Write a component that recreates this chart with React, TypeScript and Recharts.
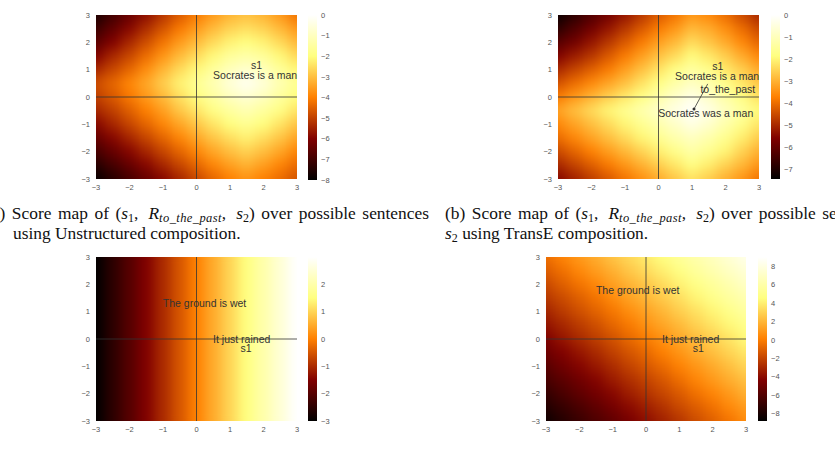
import React from 'react';
import {
    ScatterChart, Scatter, BarChart, Bar, XAxis, YAxis, ReferenceDot
} from 'recharts';

// axis ticks shared by every map
const axisTicks = [-3, -2, -1, 0, 1, 2, 3];
// sample positions of the score grids (columns left->right, rows top->bottom)
const gridX = [-3, -2.5, -2, -1.5, -1, -0.5, 0, 0.5, 1, 1.5, 2, 2.5, 3];
const gridY = [3, 2.5, 2, 1.5, 1, 0.5, 0, -0.5, -1, -1.5, -2, -2.5, -3];

// (a) Unstructured composition
const scoreA = [
    [-7.6, -7.0, -6.4, -5.8, -5.2, -4.6, -4.1, -3.6, -3.2, -3.0, -3.2, -3.6, -4.2],
    [-7.1, -6.5, -5.9, -5.3, -4.7, -4.1, -3.6, -3.1, -2.7, -2.5, -2.7, -3.1, -3.6],
    [-6.6, -6.0, -5.4, -4.8, -4.2, -3.6, -3.1, -2.6, -2.2, -2.0, -2.2, -2.6, -3.1],
    [-6.0, -5.4, -4.9, -4.3, -3.7, -3.1, -2.6, -2.1, -1.6, -1.4, -1.6, -2.1, -2.6],
    [-5.4, -4.9, -4.4, -3.8, -3.2, -2.6, -2.1, -1.6, -1.1, -0.8, -1.1, -1.6, -2.1],
    [-4.8, -4.4, -3.9, -3.4, -2.8, -2.2, -1.7, -1.2, -0.6, -0.2, -0.6, -1.2, -1.7],
    [-5.0, -4.6, -4.1, -3.6, -3.1, -2.5, -2.0, -1.5, -1.0, -0.7, -1.0, -1.5, -2.0],
    [-5.4, -5.0, -4.5, -4.0, -3.5, -2.9, -2.4, -1.9, -1.5, -1.2, -1.5, -1.9, -2.4],
    [-5.9, -5.4, -4.9, -4.4, -3.9, -3.4, -2.9, -2.4, -2.0, -1.7, -2.0, -2.4, -2.9],
    [-6.4, -5.9, -5.4, -4.9, -4.4, -3.9, -3.4, -2.9, -2.5, -2.2, -2.5, -2.9, -3.4],
    [-6.9, -6.4, -5.9, -5.4, -4.9, -4.4, -3.9, -3.4, -3.0, -2.7, -3.0, -3.4, -3.9],
    [-7.4, -6.9, -6.4, -5.9, -5.4, -4.9, -4.4, -3.9, -3.5, -3.2, -3.5, -3.9, -4.3],
    [-7.9, -7.4, -6.9, -6.4, -5.9, -5.4, -4.9, -4.4, -4.0, -3.7, -4.0, -4.3, -4.7],
];

// (b) TransE composition
const scoreB = [
    [-7.3, -6.8, -6.3, -5.8, -5.3, -4.8, -4.3, -3.9, -3.4, -3.6, -4.0, -4.5, -5.0],
    [-6.8, -6.3, -5.8, -5.3, -4.8, -4.3, -3.8, -3.4, -2.9, -3.1, -3.5, -4.0, -4.5],
    [-6.2, -5.8, -5.3, -4.8, -4.3, -3.8, -3.3, -2.9, -2.4, -2.7, -3.1, -3.6, -4.1],
    [-5.6, -5.2, -4.8, -4.3, -3.8, -3.3, -2.8, -2.4, -1.9, -2.2, -2.6, -3.1, -3.6],
    [-5.0, -4.6, -4.2, -3.8, -3.3, -2.8, -2.3, -1.8, -1.4, -1.7, -2.2, -2.6, -3.1],
    [-4.4, -4.0, -3.6, -3.2, -2.8, -2.3, -1.8, -1.3, -0.9, -1.2, -1.7, -2.2, -2.7],
    [-3.8, -3.4, -3.0, -2.6, -2.2, -1.8, -1.3, -0.8, -0.4, -0.8, -1.3, -1.8, -2.3],
    [-3.2, -2.8, -2.4, -2.0, -1.6, -1.2, -0.8, -0.4, -0.05, -0.4, -0.9, -1.4, -1.9],
    [-3.6, -3.2, -2.8, -2.4, -2.0, -1.6, -1.2, -0.8, -0.4, -0.7, -1.2, -1.7, -2.2],
    [-4.0, -3.6, -3.2, -2.8, -2.4, -2.0, -1.6, -1.2, -0.9, -1.2, -1.6, -2.1, -2.6],
    [-4.5, -4.1, -3.7, -3.3, -2.9, -2.5, -2.1, -1.7, -1.3, -1.6, -2.0, -2.5, -3.0],
    [-5.0, -4.6, -4.2, -3.8, -3.4, -3.0, -2.6, -2.2, -1.8, -2.1, -2.5, -2.9, -3.4],
    [-5.5, -5.1, -4.7, -4.3, -3.9, -3.5, -3.1, -2.7, -2.3, -2.6, -3.0, -3.4, -3.9],
];

// (c) varies along x only
const scoreC = [
    [-3.0, -2.5, -2.0, -1.5, -1.0, -0.5, 0.0, 0.5, 1.0, 1.5, 2.0, 2.5, 3.0],
    [-3.0, -2.5, -2.0, -1.5, -1.0, -0.5, 0.0, 0.5, 1.0, 1.5, 2.0, 2.5, 3.0],
    [-3.0, -2.5, -2.0, -1.5, -1.0, -0.5, 0.0, 0.5, 1.0, 1.5, 2.0, 2.5, 3.0],
    [-3.0, -2.5, -2.0, -1.5, -1.0, -0.5, 0.0, 0.5, 1.0, 1.5, 2.0, 2.5, 3.0],
    [-3.0, -2.5, -2.0, -1.5, -1.0, -0.5, 0.0, 0.5, 1.0, 1.5, 2.0, 2.5, 3.0],
    [-3.0, -2.5, -2.0, -1.5, -1.0, -0.5, 0.0, 0.5, 1.0, 1.5, 2.0, 2.5, 3.0],
    [-3.0, -2.5, -2.0, -1.5, -1.0, -0.5, 0.0, 0.5, 1.0, 1.5, 2.0, 2.5, 3.0],
    [-3.0, -2.5, -2.0, -1.5, -1.0, -0.5, 0.0, 0.5, 1.0, 1.5, 2.0, 2.5, 3.0],
    [-3.0, -2.5, -2.0, -1.5, -1.0, -0.5, 0.0, 0.5, 1.0, 1.5, 2.0, 2.5, 3.0],
    [-3.0, -2.5, -2.0, -1.5, -1.0, -0.5, 0.0, 0.5, 1.0, 1.5, 2.0, 2.5, 3.0],
    [-3.0, -2.5, -2.0, -1.5, -1.0, -0.5, 0.0, 0.5, 1.0, 1.5, 2.0, 2.5, 3.0],
    [-3.0, -2.5, -2.0, -1.5, -1.0, -0.5, 0.0, 0.5, 1.0, 1.5, 2.0, 2.5, 3.0],
    [-3.0, -2.5, -2.0, -1.5, -1.0, -0.5, 0.0, 0.5, 1.0, 1.5, 2.0, 2.5, 3.0],
];

// (d) diagonal ramp
const scoreD = [
    [-0.5, 0.3, 1.0, 1.7, 2.5, 3.2, 3.9, 4.6, 5.4, 6.1, 6.8, 7.5, 8.3],
    [-1.1, -0.4, 0.4, 1.1, 1.8, 2.6, 3.3, 4.0, 4.7, 5.5, 6.2, 6.9, 7.6],
    [-1.8, -1.0, -0.3, 0.4, 1.2, 1.9, 2.6, 3.3, 4.1, 4.8, 5.5, 6.2, 7.0],
    [-2.4, -1.7, -1.0, -0.3, 0.5, 1.3, 2.0, 2.7, 3.4, 4.2, 4.9, 5.6, 6.3],
    [-3.1, -2.3, -1.6, -0.9, -0.2, 0.6, 1.3, 2.0, 2.8, 3.5, 4.2, 4.9, 5.7],
    [-3.7, -3.0, -2.3, -1.6, -0.8, -0.1, 0.7, 1.4, 2.1, 2.9, 3.6, 4.3, 5.0],
    [-4.4, -3.6, -2.9, -2.2, -1.5, -0.7, 0.0, 0.7, 1.5, 2.2, 2.9, 3.6, 4.4],
    [-5.0, -4.3, -3.6, -2.9, -2.1, -1.4, -0.7, 0.1, 0.8, 1.6, 2.3, 3.0, 3.7],
    [-5.7, -4.9, -4.2, -3.5, -2.8, -2.0, -1.3, -0.6, 0.2, 0.9, 1.6, 2.3, 3.1],
    [-6.3, -5.6, -4.9, -4.2, -3.4, -2.7, -2.0, -1.3, -0.5, 0.3, 1.0, 1.7, 2.4],
    [-7.0, -6.2, -5.5, -4.8, -4.1, -3.3, -2.6, -1.9, -1.2, -0.4, 0.3, 1.0, 1.8],
    [-7.6, -6.9, -6.2, -5.5, -4.7, -4.0, -3.3, -2.6, -1.8, -1.1, -0.4, 0.4, 1.1],
    [-8.3, -7.5, -6.8, -6.1, -5.4, -4.6, -3.9, -3.2, -2.5, -1.7, -1.0, -0.3, 0.5],
];

// colorbar ranges and ticks
const rangeA = [-8, 0];
const ticksA = [-8, -7, -6, -5, -4, -3, -2, -1, 0];
const rangeB = [-7.45, 0];
const ticksB = [-7, -6, -5, -4, -3, -2, -1, 0];
const rangeC = [-3, 3];
const ticksC = [-3, -2, -1, 0, 1, 2];
const rangeD = [-8.8, 9];
const ticksD = [-8, -6, -4, -2, 0, 2, 4, 6, 8];

// zero lines through each map
const zeroV = [{ x: 0, y: -3 }, { x: 0, y: 3 }];
const zeroH = [{ x: -3, y: 0 }, { x: 3, y: 0 }];

// text annotations (data coords)
const notesA = [
    { x: 1.79, y: 1.17, text: 's1' },
    { x: 1.75, y: 0.78, text: 'Socrates is a man' },
];
const notesB = [
    { x: 1.77, y: 1.12, text: 's1' },
    { x: 1.75, y: 0.77, text: 'Socrates is a man' },
    { x: 2.07, y: 0.28, text: 'to_the_past' },
    { x: 1.41, y: -0.6, text: 'Socrates was a man' },
];
const arrowB = [{ x: 1.47, y: 0.48 }, { x: 1.06, y: -0.44 }];
const notesC = [
    { x: 0.24, y: 1.31, text: 'The ground is wet' },
    { x: 1.35, y: -0.01, text: 'It just rained' },
    { x: 1.48, y: -0.34, text: 's1' },
];
const notesD = [
    { x: -0.25, y: 1.8, text: 'The ground is wet' },
    { x: 1.34, y: 0, text: 'It just rained' },
    { x: 1.57, y: -0.33, text: 's1' },
];

const tickFont = { fontSize: 7.5, fill: '#555', fontFamily: 'Liberation Sans, Arial, sans-serif' };
const fmt = (v: number) => (v < 0 ? `\u2212${-v}` : `${v}`);

// matplotlib afmhot
const afmhot = (t: number) => {
    const c = (v: number) => Math.round(255 * Math.min(1, Math.max(0, v)));
    return `rgb(${c(2 * t)},${c(2 * t - 0.5)},${c(2 * t - 1)})`;
};

const cellsOf = (grid: number[][]) =>
    grid.flatMap((row, i) => row.map((v, j) => ({ x: gridX[j], y: gridY[i], v })));

type Note = { x: number; y: number; text: string };
type Pt = { x: number; y: number };

const noMark = () => <g />;
const lineStyle = { stroke: '#333', strokeWidth: 0.8 };

const HeatPanel = ({ left, top, w, h, grid, range, notes, arrow }: {
    left: number; top: number; w: number; h: number; grid: number[][];
    range: number[]; notes: Note[]; arrow?: Pt[];
}) => {
    const cw = w / 12 + 1;
    const ch = h / 12 + 1;
    const cell = (p: any) => {
        const t = (p.payload.v - range[0]) / (range[1] - range[0]);
        return <rect x={p.cx - cw / 2} y={p.cy - ch / 2} width={cw} height={ch} fill={afmhot(t)} />;
    };
    const tip = (p: any) => (arrow && p.payload === arrow[1]
        ? <circle cx={p.cx} cy={p.cy} r={1.5} fill="#333" /> : <g />);
    return (
        <div style={{ position: 'absolute', left: left - 40, top: top - 5 }}>
            <ScatterChart width={w + 45} height={h + 25} margin={{ top: 5, right: 5, bottom: 0, left: 0 }}>
                <XAxis type="number" dataKey="x" domain={[-3, 3]} ticks={axisTicks} allowDataOverflow
                    height={20} tickLine={false} axisLine={false} tickSize={4} tickMargin={2}
                    tick={tickFont} tickFormatter={fmt} interval={0} />
                <YAxis type="number" dataKey="y" domain={[-3, 3]} ticks={axisTicks} allowDataOverflow
                    width={40} tickLine={false} axisLine={false} tickSize={4} tickMargin={2}
                    tick={tickFont} tickFormatter={fmt} interval={0} />
                <Scatter className="heat-cells" data={cellsOf(grid)} shape={cell} isAnimationActive={false} />
                <Scatter data={zeroV} line={lineStyle} shape={noMark} isAnimationActive={false} />
                <Scatter data={zeroH} line={lineStyle} shape={noMark} isAnimationActive={false} />
                {arrow && <Scatter data={arrow} line={lineStyle} shape={tip} isAnimationActive={false} />}
                {notes.map((n) => (
                    <ReferenceDot key={n.text} x={n.x} y={n.y} r={0} fill="none" stroke="none"
                        label={{ value: n.text, position: 'center', fontSize: 10.5, fill: '#333',
                            fontFamily: 'Liberation Sans, Arial, sans-serif' }} />
                ))}
            </ScatterChart>
        </div>
    );
};

const ColorBar = ({ left, top, h, range, ticks }: { left: number; top: number; h: number; range: number[]; ticks: number[] }) => (
    <div style={{ position: 'absolute', left, top }}>
        <BarChart width={39} height={h} margin={{ top: 0, right: 0, bottom: 0, left: 0 }}
            data={[{ k: 'cb', span: range }]} barCategoryGap={0}>
            <XAxis dataKey="k" hide />
            <YAxis orientation="right" type="number" domain={range} ticks={ticks} width={30}
                allowDataOverflow tickLine={false} axisLine={false} tickSize={4} tickMargin={0}
                tick={tickFont} tickFormatter={fmt} interval={0} />
            <Bar dataKey="span" fill="url(#afmhot)" isAnimationActive={false} />
        </BarChart>
    </div>
);

const serif = 'Liberation Serif, Times New Roman, serif';
const sub = { fontSize: 12, verticalAlign: '-3px', lineHeight: 0 } as const;
const subR = { fontSize: 12.5, verticalAlign: '-3px', lineHeight: 0, letterSpacing: '0.4px' } as const;
const Tuple = () => (
    <span>(<i>s</i><span style={sub}>1</span>,&thinsp; <i>R</i><i style={subR}>to_the_past</i>,&thinsp; <i>s</i><span style={sub}>2</span>)</span>
);
const capStyle = { position: 'absolute', fontFamily: serif, fontSize: 17.4, lineHeight: '18px', whiteSpace: 'nowrap', color: '#111' } as const;
// first caption lines are justified in the source, so words sit further apart
const justified = { wordSpacing: '2.2px' };

export default function App() {
    return (
        <div style={{ position: 'absolute', left: 0, top: 0, width: 835, height: 450, overflow: 'hidden', background: '#fff' }}>
            <style>{`.heat-cells { filter: url(#smooth); } .recharts-surface { overflow: visible; }`}</style>
            <svg width="0" height="0" style={{ position: 'absolute' }}>
                <defs>
                    <linearGradient id="afmhot" x1="0" y1="0" x2="0" y2="1">
                        <stop offset="0" stopColor="#ffffff" />
                        <stop offset="0.25" stopColor="#ffff80" />
                        <stop offset="0.5" stopColor="#ff8000" />
                        <stop offset="0.75" stopColor="#800000" />
                        <stop offset="1" stopColor="#000000" />
                    </linearGradient>
                    <filter id="smooth" x="-5%" y="-5%" width="110%" height="110%" colorInterpolationFilters="sRGB">
                        <feGaussianBlur stdDeviation="6" />
                        <feComponentTransfer>
                            <feFuncA type="table" tableValues="1 1" />
                        </feComponentTransfer>
                    </filter>
                </defs>
            </svg>

            <HeatPanel left={96} top={15} w={201} h={164} grid={scoreA} range={rangeA} notes={notesA} />
            <ColorBar left={308} top={15} h={165} range={rangeA} ticks={ticksA} />

            <HeatPanel left={558} top={15} w={201} h={164} grid={scoreB} range={rangeB} notes={notesB} arrow={arrowB} />
            <ColorBar left={771} top={15} h={164} range={rangeB} ticks={ticksB} />

            <HeatPanel left={96} top={257} w={201} h={164} grid={scoreC} range={rangeC} notes={notesC} />
            <ColorBar left={308} top={257} h={164} range={rangeC} ticks={ticksC} />

            <HeatPanel left={546} top={257} w={200} h={164} grid={scoreD} range={rangeD} notes={notesD} />
            <ColorBar left={758} top={257} h={164} range={rangeD} ticks={ticksD} />

            <div style={{ ...capStyle, ...justified, left: -14, top: 204 }}>(a) Score map of <Tuple /> over possible sentences</div>
            <div style={{ ...capStyle, left: 13, top: 224 }}>using Unstructured composition.</div>
            <div style={{ ...capStyle, ...justified, left: 445, top: 204 }}>(b) Score map of <Tuple /> over possible sentences</div>
            <div style={{ ...capStyle, left: 445, top: 224 }}><i>s</i><span style={sub}>2</span> using TransE composition.</div>
        </div>
    );
}
